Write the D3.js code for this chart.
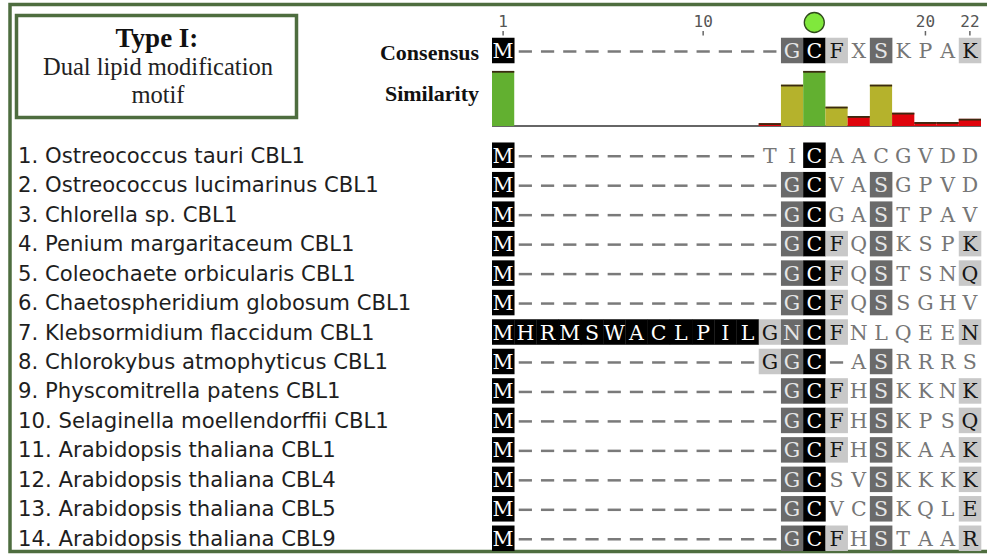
<!DOCTYPE html>
<html>
<head>
<meta charset="utf-8">
<script src="https://cdnjs.cloudflare.com/ajax/libs/d3/7.8.5/d3.min.js"></script>
<style>
  body { margin: 0; background: #fff; }
  svg { display: block; }
</style>
</head>
<body>
<svg class="alignement"></svg>
<script>

// Row labels
let noms = [
  "1. Ostreococcus tauri CBL1",
  "2. Ostreococcus lucimarinus CBL1",
  "3. Chlorella sp. CBL1",
  "4. Penium margaritaceum CBL1",
  "5. Coleochaete orbicularis CBL1",
  "6. Chaetospheridium globosum CBL1",
  "7. Klebsormidium flaccidum CBL1",
  "8. Chlorokybus atmophyticus CBL1",
  "9. Physcomitrella patens CBL1",
  "10. Selaginella moellendorffii CBL1",
  "11. Arabidopsis thaliana CBL1",
  "12. Arabidopsis thaliana CBL4",
  "13. Arabidopsis thaliana CBL5",
  "14. Arabidopsis thaliana CBL9"
];

// Aligned sequences (22 positions)
let sequences = [
  "M-----------TICAACGVDD",
  "M------------GCVASGPVD",
  "M------------GCGASTPAV",
  "M------------GCFQSKSPK",
  "M------------GCFQSTSNQ",
  "M------------GCFQSSGHV",
  "MHRMSWACLPILGNCFNLQEEN",
  "M-----------GGC-ASRRRS",
  "M------------GCFHSKKNK",
  "M------------GCFHSKPSQ",
  "M------------GCFHSKAAK",
  "M------------GCSVSKKKK",
  "M------------GCVCSKQLE",
  "M------------GCFHSTAAR"
];

// Shading per position: k = identical, d = dark, l = light, . = none
let ombrages = [
  "k.............k.......",
  "k............dk..d....",
  "k............dk..d....",
  "k............dkl.d...l",
  "k............dkl.d...l",
  "k............dkl.d....",
  "kkkkkkkkkkkkldkl.....l",
  "k...........ldk..d....",
  "k............dkl.d...l",
  "k............dkl.d...l",
  "k............dkl.d...l",
  "k............dk..d...l",
  "k............dk..d...l",
  "k............dkl.d...l"
];

let consensus = "M------------GCFXSKPAK";
let consensusOmbrage = "k............dkl.d...l";

// Similarity per position
let similarite = [1, 0, 0, 0, 0, 0, 0, 0, 0, 0, 0, 0, 0.05, 0.75, 1, 0.35, 0.18, 0.75, 0.24, 0.07, 0.07, 0.13];

// Position ruler
let graduations = [1, 10, 20, 22];
let positionCible = 15;


let w = 987;
let h = 555;

let svg = d3.select(".alignement")
    .attr("width", w)
    .attr("height", h)
    .attr("viewBox", `0,0,${w},${h}`);

let positions = d3.range(1, 23);

let x = d3.scaleBand()
    .domain(positions)
    .range([492, 981]);

let y = d3.scaleBand()
    .domain(d3.range(noms.length))
    .range([140.5, 553]);

let ySim = d3.scaleLinear()
    .domain([0, 1])
    .range([126, 71]);

let couleurSim = d3.scaleThreshold()
    .domain([0.3, 0.99])
    .range(["#e0040c", "#b5b22c", "#62b030"]);

let fondCase = {k: "#000", d: "#6a6a6a", l: "#c8c8c8", ".": "none"};
let texteCase = {k: "#fff", d: "#e6e6e6", l: "#151515", ".": "#767676"};

let hCase = 25.5;

//Cadre extérieur
svg.append("rect")
    .attr("x", 10)
    .attr("y", 4.5)
    .attr("width", 985)
    .attr("height", 547)
    .attr("fill", "none")
    .attr("stroke", "#4e6d3f")
    .attr("stroke-width", 3.5);

//Titre
svg.append("rect")
    .attr("x", 16.5)
    .attr("y", 15.5)
    .attr("width", 280)
    .attr("height", 102)
    .attr("fill", "#fff")
    .attr("stroke", "#4e6d3f")
    .attr("stroke-width", 3.5);

svg.append("text")
    .attr("x", 157)
    .attr("y", 47)
    .attr("text-anchor", "middle")
    .style("font-family", "'Liberation Serif', serif")
    .style("font-weight", "bold")
    .style("font-size", "27px")
    .style("fill", "#111")
    .text("Type I:");

svg.append("text")
    .attr("x", 158)
    .attr("y", 75)
    .attr("text-anchor", "middle")
    .style("font-family", "'Liberation Serif', serif")
    .style("font-size", "24.5px")
    .style("fill", "#222")
    .text("Dual lipid modification");

svg.append("text")
    .attr("x", 158)
    .attr("y", 103)
    .attr("text-anchor", "middle")
    .style("font-family", "'Liberation Serif', serif")
    .style("font-size", "24.5px")
    .style("fill", "#222")
    .text("motif");

//Etiquettes Consensus / Similarity
svg.append("text")
    .attr("x", 479)
    .attr("y", 60)
    .attr("text-anchor", "end")
    .style("font-family", "'Liberation Serif', serif")
    .style("font-weight", "bold")
    .style("font-size", "22px")
    .style("fill", "#111")
    .text("Consensus");

svg.append("text")
    .attr("x", 479)
    .attr("y", 101)
    .attr("text-anchor", "end")
    .style("font-family", "'Liberation Serif', serif")
    .style("font-weight", "bold")
    .style("font-size", "22px")
    .style("fill", "#111")
    .text("Similarity");

//Graduations
let grad = svg.append("g")
    .selectAll("g")
    .data(graduations)
    .enter()
    .append("g")
    .attr("transform", d => `translate(${x(d) + x.bandwidth() / 2},0)`);

grad.append("text")
    .attr("y", 27)
    .attr("text-anchor", "middle")
    .style("font-family", "'DejaVu Sans Mono', monospace")
    .style("font-size", "16px")
    .style("fill", "#555")
    .text(d => d);

grad.append("line")
    .attr("y1", 31)
    .attr("y2", 35.5)
    .attr("stroke", "#666")
    .attr("stroke-width", 1.5);

//Cercle position cible
svg.append("circle")
    .attr("cx", x(positionCible) + x.bandwidth() / 2)
    .attr("cy", 22.5)
    .attr("r", 10)
    .attr("fill", "#80e83c")
    .attr("stroke", "#2f4a1c")
    .attr("stroke-width", 1.3);

//Fonction pour dessiner une ligne de l'alignement
let dessinerLigne = (groupe, seq, omb, yc) => {
  let cases = seq.split("").map((c, i) => ({pos: i + 1, lettre: c, ombre: omb[i]}));

  groupe.selectAll("rect.fond")
    .data(cases.filter(d => d.ombre !== "."))
    .enter()
    .append("rect")
    .attr("class", "fond")
    .attr("x", d => x(d.pos))
    .attr("y", yc - hCase / 2)
    .attr("width", x.bandwidth() + 0.3)
    .attr("height", hCase)
    .attr("fill", d => fondCase[d.ombre]);

  groupe.selectAll("line.tiret")
    .data(cases.filter(d => d.lettre === "-"))
    .enter()
    .append("line")
    .attr("class", "tiret")
    .attr("x1", d => x(d.pos) + 4.5)
    .attr("x2", d => x(d.pos) + x.bandwidth() - 4.5)
    .attr("y1", yc + 1)
    .attr("y2", yc + 1)
    .attr("stroke", "#7a7a7a")
    .attr("stroke-width", 2.5);

  groupe.selectAll("text.lettre")
    .data(cases.filter(d => d.lettre !== "-"))
    .enter()
    .append("text")
    .attr("class", "lettre")
    .attr("x", d => x(d.pos) + x.bandwidth() / 2)
    .attr("y", yc + 7.5)
    .attr("text-anchor", "middle")
    .style("font-family", "'DejaVu Serif', serif")
    .style("font-size", "20.5px")
    .style("fill", d => texteCase[d.ombre])
    .text(d => d.lettre);
};

//Consensus
dessinerLigne(svg.append("g"), consensus, consensusOmbrage, 50.5);

//Barres de similarité
svg.append("line")
    .attr("x1", x(1))
    .attr("x2", x(22) + x.bandwidth())
    .attr("y1", ySim(0))
    .attr("y2", ySim(0))
    .attr("stroke", "#333")
    .attr("stroke-width", 1.5);

let barres = svg.append("g")
    .selectAll("g")
    .data(similarite.map((v, i) => ({pos: i + 1, valeur: v})).filter(d => d.valeur > 0))
    .enter()
    .append("g");

barres.append("rect")
    .attr("x", d => x(d.pos))
    .attr("y", d => ySim(d.valeur))
    .attr("width", x.bandwidth())
    .attr("height", d => ySim(0) - ySim(d.valeur))
    .attr("fill", d => couleurSim(d.valeur));

barres.append("line")
    .attr("x1", d => x(d.pos))
    .attr("x2", d => x(d.pos) + x.bandwidth())
    .attr("y1", d => ySim(d.valeur) + 0.8)
    .attr("y2", d => ySim(d.valeur) + 0.8)
    .attr("stroke", "#3a2a10")
    .attr("stroke-width", 1.8);

//Noms des séquences
svg.append("g")
    .selectAll("text")
    .data(noms)
    .enter()
    .append("text")
    .attr("x", 18)
    .attr("y", (d, i) => y(i) + y.bandwidth() / 2 + 7.5)
    .style("font-family", "'DejaVu Sans', sans-serif")
    .style("font-size", "21.2px")
    .style("fill", "#1e1e1e")
    .text(d => d);

//Lignes de l'alignement
sequences.forEach((s, i) => {
  dessinerLigne(svg.append("g"), s, ombrages[i], y(i) + y.bandwidth() / 2);
});

</script>
</body>
</html>
